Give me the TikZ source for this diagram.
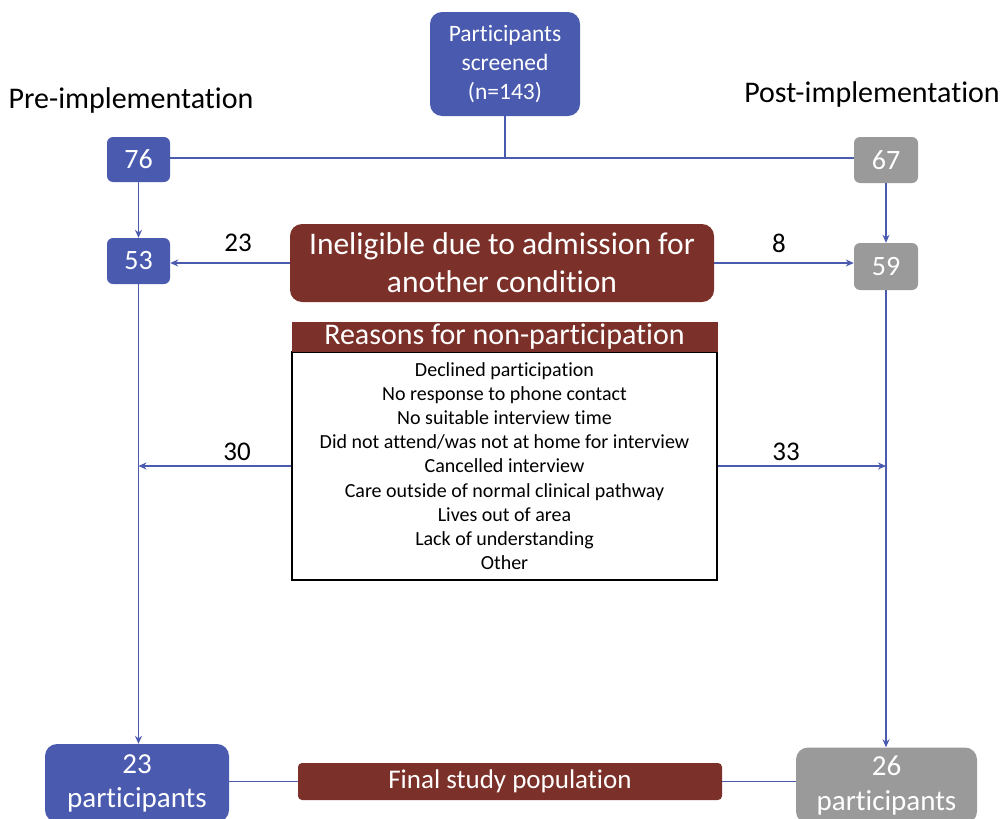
\documentclass[tikz,border=0pt]{standalone}
\usepackage{fontspec}
\setmainfont{Carlito}[RawFeature={-liga;-clig;-dlig;-calt;-rlig}]
\usetikzlibrary{arrows.meta}
\definecolor{cblue}{HTML}{4A5AAF}
\definecolor{cgray}{HTML}{9A9A9A}
\definecolor{cbrown}{HTML}{7B3129}
\begin{document}
\begin{tikzpicture}[x=1pt,y=-1pt,
  box/.style={rounded corners=6pt, inner sep=0pt, align=center, text=white},
  bluebox/.style={box, fill=cblue},
  graybox/.style={box, fill=cgray},
  brownbox/.style={box, fill=cbrown},
  conn/.style={draw=cblue, line width=1.4pt},
  arr/.style={conn, -{Stealth[length=8pt,width=7pt]}},
  lbl/.style={font=\fontsize{27}{30}\selectfont, inner sep=0pt},
  side/.style={font=\fontsize{30}{34}\selectfont, inner sep=0pt},
  num/.style={font=\fontsize{28}{30}\selectfont}
]
\useasboundingbox (0,0) rectangle (1001,819);
\clip (0,0) rectangle (1001,819);
\node[bluebox, rounded corners=12pt, minimum width=150pt, minimum height=104pt,
  font=\fontsize{23.5}{29}\selectfont] (screen) at (505,64) {Participants\\screened\\(n=143)};
\node[side] (pre) at (131,101) {Pre-implementation};
\node[side] (post) at (872,95) {Post-implementation};
\node[bluebox, num, minimum width=63pt, minimum height=45pt] (n76) at (138.5,159.5) {76};
\node[graybox, num, minimum width=64pt, minimum height=46pt] (n67) at (886,160) {67};
\node[bluebox, num, minimum width=63pt, minimum height=46pt] (n53) at (138.5,261) {53};
\node[graybox, num, minimum width=64pt, minimum height=47pt] (n59) at (886,266.5) {59};
\node[brownbox, rounded corners=12pt, minimum width=424pt, minimum height=78pt,
  font=\fontsize{31.5}{38}\selectfont] (inel) at (502,263) {Ineligible due to admission for\\another condition};
\node[draw=black, line width=1.2pt, fill=white, minimum width=425pt, minimum height=228pt,
  inner sep=0pt, align=center, font=\fontsize{20}{24.2}\selectfont] (rbody) at (504.5,466)
  {Declined participation\\No response to phone contact\\No suitable interview time\\
   Did not attend/was not at home for interview\\Cancelled interview\\
   Care outside of normal clinical pathway\\Lives out of area\\Lack of understanding\\Other};
\node[fill=cbrown, text=white, minimum width=426pt, minimum height=30pt, inner sep=0pt,
  font=\fontsize{30}{32}\selectfont] (rhead) at (504.5,337) {Reasons for non-participation};
\node[bluebox, rounded corners=12pt, minimum width=184pt, minimum height=78pt,
  font=\fontsize{29}{34}\selectfont] (p23) at (137,783) {23\\participants};
\node[graybox, rounded corners=12pt, minimum width=181pt, minimum height=76pt,
  font=\fontsize{29}{35}\selectfont] (p26) at (886.5,785.5) {26\\participants};
\node[brownbox, rounded corners=4pt, minimum width=424pt, minimum height=37pt,
  font=\fontsize{27}{30}\selectfont] (final) at (510,781.5) {Final study population};
% connectors
\coordinate (j) at (screen.south |- 0,158);
\draw[conn] (n76.east |- j) -- (n67.west |- j);
\draw[conn] (screen.south) -- (j);
\draw[arr] (n76) -- (n53);
\draw[arr] (n67) -- (n59);
\draw[arr] (inel.west) -- (inel.west -| n53.east);
\draw[arr] (inel.east) -- (inel.east -| n59.west);
\draw[arr] (n53) -- (p23.north -| n53);
\draw[arr] (n59) -- (p26.north -| n59);
\draw[arr] (rbody.west) -- (rbody.west -| n53);
\draw[arr] (rbody.east) -- (rbody.east -| n59);
\draw[conn] (p23.east |- final) -- (final.west);
\draw[conn] (final.east) -- (p26.west |- final);
% labels
\node[lbl] (l23) at (238,243) {23};
\node[lbl] (l8) at (779,243) {8};
\node[lbl] (l30) at (237,452) {30};
\node[lbl] (l33) at (786,452) {33};
\end{tikzpicture}
\end{document}
